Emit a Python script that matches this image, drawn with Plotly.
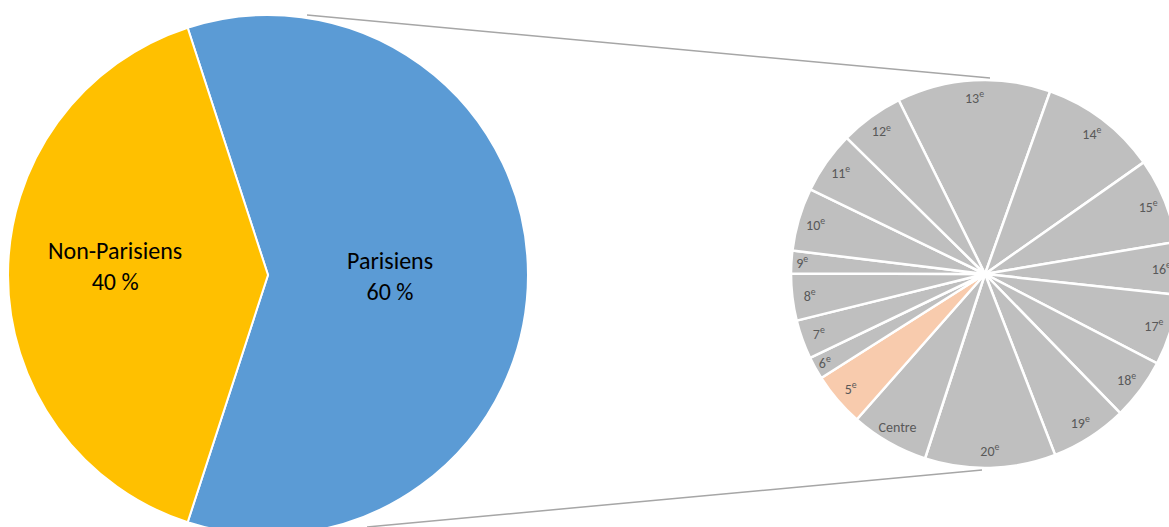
import plotly.graph_objects as go

# Figure is laid out a little larger than the window so that, as in the
# reference, the big pie runs off the bottom and the small pie off the right.
W, H = 1185, 540

# Main pie data
main_labels = ["Parisiens", "Non-Parisiens"]
main_values = [60, 40]
main_text = ["Parisiens<br>60 %", "Non-Parisiens<br>40 %"]
main_colors = ["#5B9BD5", "#FFC000"]

# Breakdown by arrondissement (share of Parisiens, %)
arr_labels = ["13e", "14e", "15e", "16e", "17e", "18e", "19e", "20e", "Centre",
              "5e", "6e", "7e", "8e", "9e", "10e", "11e", "12e"]
arr_text = ["13<sup>e</sup>", "14<sup>e</sup>", "15<sup>e</sup>", "16<sup>e</sup>",
            "17<sup>e</sup>", "18<sup>e</sup>", "19<sup>e</sup>", "20<sup>e</sup>", "Centre",
            "5<sup>e</sup>", "6<sup>e</sup>", "7<sup>e</sup>", "8<sup>e</sup>", "9<sup>e</sup>",
            "10<sup>e</sup>", "11<sup>e</sup>", "12<sup>e</sup>"]
arr_values = [12.8, 9.8, 7.1, 4.4, 5.9, 5.1, 6.4, 10.9, 6.5,
              4.5, 1.9, 3.25, 3.9, 1.9, 5.25, 5.2, 5.3]
highlight = "5e"

GREY = "#BFBFBF"
PEACH = "#F8CBAD"
arr_colors = [PEACH if l == highlight else GREY for l in arr_labels]

FONT = "Carlito, Lato, 'Open Sans', sans-serif"


def px(x):
    return x / W


def py(y):
    return 1 - y / H


fig = go.Figure()

# big pie: centre (268, 275), radius 260 (px)
fig.add_trace(go.Pie(
    labels=main_labels, values=main_values,
    textinfo="none",
    marker=dict(colors=main_colors, line=dict(color="white", width=2)),
    sort=False, direction="clockwise", rotation=-18,
    domain=dict(x=[px(8), px(528)], y=[py(535), py(15)]),
    hoverinfo="label+percent", showlegend=False,
))

# small pie: centre (985, 274), radius 194 (px)
small_dom = dict(x=[px(791), px(1179)], y=[py(468), py(80)])

fig.add_trace(go.Pie(
    labels=arr_labels, values=arr_values,
    textinfo="none",
    marker=dict(colors=arr_colors, line=dict(color="white", width=2.5)),
    sort=False, direction="clockwise", rotation=-26.4,
    domain=small_dom, showlegend=False, hoverinfo="label+percent",
))

# transparent ring carrying the labels near the rim
fig.add_trace(go.Pie(
    labels=arr_labels, values=arr_values, text=arr_text,
    textinfo="text", textposition="inside", insidetextorientation="horizontal",
    marker=dict(colors=["rgba(0,0,0,0)"] * len(arr_labels), line=dict(width=0)),
    sort=False, direction="clockwise", rotation=-26.4, hole=0.82,
    domain=small_dom, showlegend=False, hoverinfo="skip",
    textfont=dict(family=FONT, size=14, color="#595959"),
))

# labels of the big pie
label_pos = {"Parisiens": (390, 276), "Non-Parisiens": (115, 266)}
for lab, txt in zip(main_labels, main_text):
    x, y = label_pos[lab]
    fig.add_annotation(x=px(x), y=py(y), xref="paper", yref="paper",
                       text=txt, showarrow=False, xanchor="center", yanchor="middle",
                       font=dict(family=FONT, size=24, color="#000000"))

line_style = dict(color="#A6A6A6", width=1.5)
fig.add_shape(type="line", xref="paper", yref="paper",
              x0=px(307), y0=py(15), x1=px(990), y1=py(78), line=line_style)
fig.add_shape(type="line", xref="paper", yref="paper",
              x0=px(367), y0=py(527), x1=px(982), y1=py(470), line=line_style)

fig.update_layout(
    width=W, height=H,
    margin=dict(l=0, r=0, t=0, b=0),
    paper_bgcolor="white", plot_bgcolor="white",
    font=dict(family=FONT),
    uniformtext=dict(minsize=14, mode="show"),
    showlegend=False,
)

fig.write_html(
    "out.html",
    config={"displayModeBar": False},
    post_script="document.body.style.margin='0';"
                "document.body.style.overflow='hidden';"
                "document.documentElement.style.overflow='hidden';",
)
